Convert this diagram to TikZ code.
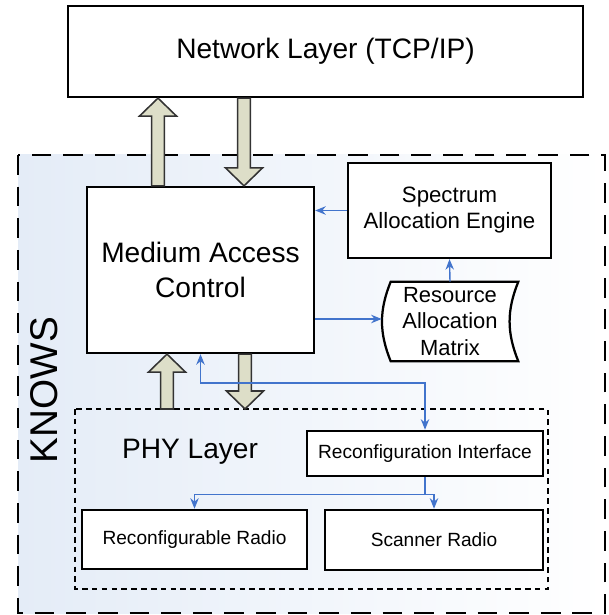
\documentclass[tikz,border=0pt]{standalone}
\usepackage{fontspec}
\setmainfont{Liberation Sans}
\usepackage{tikz}
\usetikzlibrary{arrows.meta, positioning, calc, backgrounds}
\definecolor{flowblue}{RGB}{66,116,204}
\definecolor{fatfill}{RGB}{221,222,200}
\definecolor{knowsblue}{RGB}{228,236,247}
\tikzset{
  layerbox/.style = {
    rectangle, draw=black, line width=1.6pt, fill=white,
    inner sep=0pt, align=center, font=\fontsize{20}{25}\selectfont
  },
  enginebox/.style = {
    rectangle, draw=black, line width=1.6pt, fill=white,
    inner sep=0pt, align=center, font=\fontsize{15.8}{18.5}\selectfont
  },
  radiobox/.style = {
    rectangle, draw=black, line width=1.8pt, fill=white,
    inner sep=0pt, align=center, font=\fontsize{13.6}{16}\selectfont
  },
  flow/.style = {-{Stealth[length=7.5pt, width=6pt]}, draw=flowblue, line width=1pt},
  flowboth/.style = {{Stealth[length=7.5pt, width=6pt]}-{Stealth[length=7.5pt, width=6pt]}, draw=flowblue, line width=1pt},
  fatarrow/.style = {draw=black!80, line width=1.1pt, fill=fatfill, line join=miter}
}
% vertical block arrow from #1 to #2
\newcommand{\fatarrow}[2]{%
  \draw[fatarrow] let \p1=#1, \p2=#2, \n1={sign(\y2-\y1)} in
    (\x1-4.6pt,\y1) -- (\x1-4.6pt,\y2-\n1*12.8pt) -- (\x1-13.2pt,\y2-\n1*12.8pt)
    -- (\x1,\y2) -- (\x1+13.2pt,\y2-\n1*12.8pt) -- (\x1+4.6pt,\y2-\n1*12.8pt)
    -- (\x1+4.6pt,\y1) -- cycle;}

\begin{document}
\begin{tikzpicture}[x=0.025cm, y=-0.025cm]
  \useasboundingbox (0,0) rectangle (608,615);

  % KNOWS frame
  \begin{scope}[on background layer]
    \fill[left color=knowsblue, right color=white] (18,155) rectangle (605,613);
  \end{scope}
  \draw[line width=2pt, dash pattern=on 14pt off 8.5pt] (18,155) rectangle (605,613);
  \node[rotate=90, font=\fontsize{27.5}{30}\selectfont] (knows) at (44,390) {KNOWS};

  % Layers
  \node[layerbox, minimum width=12.875cm, minimum height=2.275cm] (net) at (325.5,51.5) {Network Layer (TCP/IP)};
  \node[layerbox, minimum width=5.675cm, minimum height=4.15cm] (mac) at (200.5,270) {Medium Access\\Control};
  \node[enginebox, minimum width=5.075cm, minimum height=2.375cm] (sae) at (449.5,210.5) {Spectrum\\Allocation Engine};

  % Matrix (stored data)
  \node[font=\fontsize{15.6}{19}\selectfont, align=center, inner sep=0pt,
        minimum width=3.4cm, minimum height=1.975cm] (ram) at (450,321.5) {Resource\\Allocation\\Matrix};
  \begin{scope}[on background layer]
    \draw[line width=1.6pt, fill=white]
      ($(ram.north west)+(9,0)$) -- (ram.north east) to[bend right=22] (ram.south east)
      -- ($(ram.south west)+(9,0)$) to[bend left=22] cycle;
  \end{scope}

  % PHY
  \draw[line width=2pt, dash pattern=on 4pt off 3pt] (75,409) rectangle (548,589);
  \node[font=\fontsize{20}{25}\selectfont] (phy) at (190,452) {PHY Layer};
  \node[radiobox, minimum width=5.9cm, minimum height=1.125cm] (ri) at (425,453.5) {Reconfiguration Interface};
  \node[radiobox, minimum width=5.625cm, minimum height=1.475cm] (rr) at (194.5,539.5) {Reconfigurable Radio};
  \node[radiobox, minimum width=5.45cm, minimum height=1.5cm] (sr) at (434,540) {Scanner Radio};

  % Block arrows
  \coordinate (ua) at (158,0);
  \coordinate (da) at (244,0);
  \coordinate (ub) at (167,409);
  \coordinate (db) at (245,409);
  \fatarrow{(ua |- mac.north)}{(ua |- net.south)}
  \fatarrow{(da |- net.south)}{(da |- mac.north)}
  \fatarrow{(ub)}{(ub |- mac.south)}
  \fatarrow{(db |- mac.south)}{(db)}

  % Control flow
  \draw[flow] (sae.west) -- (sae.west -| mac.east);
  \draw[flow] (mac.east |- 0,319) -- (ram.west |- 0,319);
  \draw[flow] (ram.north) -- (sae.south);
  \draw[flowboth] (mac.south) -- ++(0,29) -| (ri.north);
  \draw[line width=1pt, draw=flowblue] (ri.south) -- ++(0,17) coordinate (split);
  \draw[flow] (split) -| (rr.north);
  \draw[flow] (split) -| (sr.north);
\end{tikzpicture}
\end{document}
